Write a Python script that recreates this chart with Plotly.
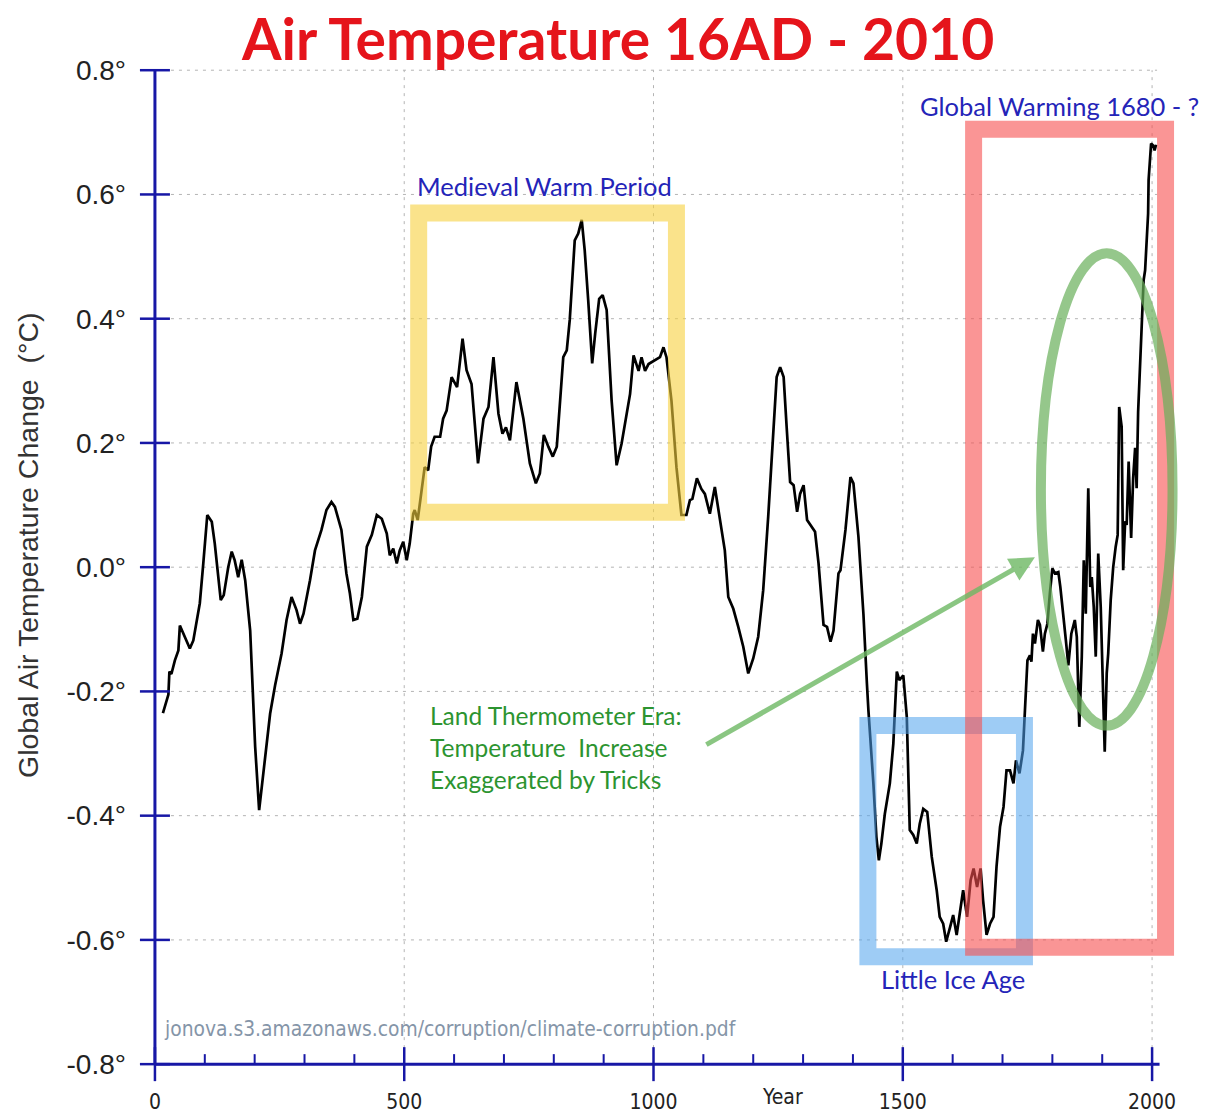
import plotly.graph_objects as go

# ---------------- data ----------------
years = [16, 22, 27, 29, 33, 40, 47, 50, 60, 70, 77, 90, 97, 105, 114, 120, 132, 138, 147, 154,
         160, 167, 174, 181, 191, 201, 209, 217, 231, 241, 247, 254, 264, 274, 284, 291, 298, 311,
         321, 328, 334, 344, 354, 361, 374, 384, 391, 398, 406, 415, 425, 435, 445, 455, 465, 471,
         478, 485, 491, 498, 505, 511, 518, 521, 527, 541, 548, 554, 561, 572, 578, 585, 595, 606,
         617, 625, 635, 648, 659, 669, 679, 689, 697, 704, 712, 725, 739, 752, 764, 772, 780, 789,
         798, 806, 819, 826, 832, 842, 849, 856, 862, 869, 877, 883, 891, 898, 906, 916, 926, 936,
         953, 960, 970, 976, 983, 990, 1003, 1013, 1020, 1026, 1036, 1046, 1056, 1066, 1073, 1078,
         1087, 1096, 1103, 1113, 1123, 1133, 1143, 1150, 1160, 1170, 1180, 1190, 1200, 1210, 1220,
         1230, 1240, 1247, 1254, 1261, 1267, 1274, 1281, 1288, 1294, 1301, 1308, 1318, 1324, 1331,
         1341, 1348, 1355, 1361, 1371, 1375, 1385, 1395, 1401, 1411, 1421, 1428, 1431, 1441, 1447,
         1452, 1457, 1464, 1474, 1481, 1488, 1493, 1501, 1508, 1514, 1521, 1528, 1534, 1541, 1549,
         1558, 1568, 1574, 1581, 1587, 1595, 1601, 1608, 1615, 1621, 1629, 1636, 1642, 1649, 1656,
         1661, 1668, 1675, 1682, 1688, 1695, 1702, 1708, 1715, 1722, 1727, 1734, 1741, 1745, 1750,
         1755, 1758, 1761, 1765, 1768, 1771, 1775, 1778, 1781, 1785, 1790, 1795, 1800, 1805, 1812,
         1816, 1822, 1827, 1832, 1838, 1845, 1849, 1854, 1859, 1863, 1867, 1872, 1876, 1879, 1883,
         1887, 1892, 1897, 1902, 1905, 1909, 1912, 1917, 1922, 1927, 1931, 1934, 1939, 1942, 1946,
         1949, 1953, 1958, 1962, 1966, 1969, 1972, 1976, 1979, 1983, 1986, 1990, 1992, 1993, 1996,
         1998, 2002, 2005, 2008]
temps = [-0.235, -0.22, -0.205, -0.168, -0.172, -0.150, -0.134, -0.094, -0.112, -0.131, -0.118,
         -0.058, 0.006, 0.084, 0.073, 0.038, -0.053, -0.045, 0.000, 0.025, 0.011, -0.016, 0.012,
         -0.021, -0.102, -0.289, -0.391, -0.332, -0.236, -0.190, -0.166, -0.139, -0.085, -0.048,
         -0.069, -0.091, -0.075, -0.021, 0.027, 0.044, 0.060, 0.092, 0.105, 0.097, 0.060, -0.010,
         -0.042, -0.085, -0.083, -0.048, 0.033, 0.052, 0.084, 0.078, 0.054, 0.019, 0.030, 0.006,
         0.027, 0.041, 0.011, 0.038, 0.086, 0.092, 0.076, 0.161, 0.156, 0.194, 0.210, 0.210, 0.239,
         0.252, 0.306, 0.290, 0.368, 0.317, 0.295, 0.167, 0.239, 0.258, 0.338, 0.247, 0.215, 0.225,
         0.204, 0.298, 0.239, 0.167, 0.135, 0.151, 0.213, 0.194, 0.178, 0.194, 0.338, 0.349, 0.398,
         0.526, 0.537, 0.559, 0.510, 0.430, 0.328, 0.376, 0.432, 0.438, 0.414, 0.268, 0.164, 0.199,
         0.279, 0.341, 0.316, 0.338, 0.316, 0.327, 0.333, 0.338, 0.354, 0.338, 0.268, 0.161, 0.084,
         0.084, 0.108, 0.110, 0.143, 0.126, 0.118, 0.086, 0.129, 0.081, 0.027, -0.048, -0.067,
         -0.096, -0.128, -0.171, -0.147, -0.112, -0.037, 0.081, 0.215, 0.306, 0.322, 0.306, 0.226,
         0.137, 0.132, 0.089, 0.118, 0.132, 0.076, 0.065, 0.057, 0.006, -0.093, -0.096, -0.120,
         -0.102, -0.010, -0.005, 0.060, 0.145, 0.135, 0.049, -0.075, -0.187, -0.230, -0.348, -0.434,
         -0.472, -0.445, -0.397, -0.348, -0.284, -0.168, -0.182, -0.174, -0.241, -0.423, -0.431,
         -0.445, -0.413, -0.389, -0.394, -0.466, -0.520, -0.563, -0.574, -0.603, -0.579, -0.560,
         -0.592, -0.552, -0.520, -0.563, -0.504, -0.485, -0.515, -0.485, -0.536, -0.592, -0.574,
         -0.563, -0.482, -0.418, -0.386, -0.327, -0.327, -0.348, -0.311, -0.332, -0.295, -0.230,
         -0.150, -0.142, -0.152, -0.107, -0.123, -0.104, -0.085, -0.093, -0.115, -0.136, -0.107,
         -0.091, -0.042, -0.002, -0.010, -0.008, -0.032, -0.075, -0.117, -0.158, -0.107, -0.085,
         -0.112, -0.257, -0.144, 0.011, -0.075, 0.127, -0.032, -0.016, -0.064, -0.144, 0.022,
         -0.064, -0.187, -0.297, -0.171, -0.139, -0.053, 0.000, 0.033, 0.052, 0.258, 0.226, -0.005,
         0.074, 0.068, 0.170, 0.047, 0.143, 0.192, 0.127, 0.250, 0.333, 0.397, 0.462, 0.478, 0.532,
         0.569, 0.623, 0.655, 0.682, 0.679, 0.671, 0.680]

y_ticks = [0.8, 0.6, 0.4, 0.2, 0.0, -0.2, -0.4, -0.6, -0.8]
y_tick_labels = ["0.8°", "0.6°", "0.4°", "0.2°", "0.0°", "-0.2°", "-0.4°", "-0.6°", "-0.8°"]
x_ticks = [0, 500, 1000, 1500, 2000]
x_tick_labels = ["0", "500", "1000", "1500", "2000"]
x_minor = [100, 200, 300, 400, 600, 700, 800, 900, 1100, 1200, 1300, 1400,
           1600, 1700, 1800, 1900]

# boxes: (x0, x1, y0, y1)
medieval_box = (529, 1046, 0.0885, 0.570)
ice_age_box = (1430, 1744, -0.627, -0.255)
warming_box = (1642, 2027, -0.612, 0.705)
ellipse_box = (1777, 2041, -0.255, 0.5054)

AXIS_BLUE = "#1717a6"
GRID = "#b4b4b4"
NARROW = "DejaVu Sans Condensed, Liberation Sans Narrow, Arial Narrow, sans-serif"
LABEL_BLUE = "#2424b8"

fig = go.Figure()
fig.add_trace(go.Scatter(x=years, y=temps, mode="lines",
                         line=dict(color="black", width=2.7), hoverinfo="skip",
                         showlegend=False))

shapes = []
# grid
for yv in y_ticks:
    if yv == -0.8:
        continue
    shapes.append(dict(type="line", xref="x", yref="y", x0=0, x1=2010, y0=yv, y1=yv,
                       line=dict(color=GRID, width=1, dash="3px,5px"), layer="below"))
for xv in x_ticks[1:]:
    shapes.append(dict(type="line", xref="x", yref="y", x0=xv, x1=xv, y0=-0.8, y1=0.8,
                       line=dict(color=GRID, width=1, dash="3px,5px"), layer="below"))

# annotation boxes
def rect(b, color, op, w):
    return dict(type="rect", xref="x", yref="y", x0=b[0], x1=b[1], y0=b[2], y1=b[3],
                line=dict(color=color, width=w), fillcolor="rgba(0,0,0,0)",
                opacity=op, layer="above")

shapes.append(rect(medieval_box, "rgb(247,210,63)", 0.6, 17))
shapes.append(rect(ice_age_box, "rgb(80,163,238)", 0.55, 17))
shapes.append(rect(warming_box, "rgb(247,80,80)", 0.6, 17))
shapes.append(dict(type="circle", xref="x", yref="y", x0=ellipse_box[0], x1=ellipse_box[1],
                   y0=ellipse_box[2], y1=ellipse_box[3],
                   line=dict(color="rgb(105,176,91)", width=10), opacity=0.7,
                   fillcolor="rgba(0,0,0,0)", layer="above"))

# axes
shapes.append(dict(type="line", xref="x", yref="y", x0=0, x1=2015, y0=-0.8, y1=-0.8,
                   line=dict(color=AXIS_BLUE, width=3), layer="above"))
shapes.append(dict(type="line", xref="x", yref="y", x0=0, x1=0, y0=-0.8, y1=0.8,
                   line=dict(color=AXIS_BLUE, width=3), layer="above"))
for yv in y_ticks:
    shapes.append(dict(type="line", xref="x", yref="y", xsizemode="pixel", xanchor=0,
                       x0=-15, x1=15, y0=yv, y1=yv,
                       line=dict(color=AXIS_BLUE, width=2.5), layer="above"))
for xv in x_ticks:
    shapes.append(dict(type="line", xref="x", yref="y", ysizemode="pixel", yanchor=-0.8,
                       x0=xv, x1=xv, y0=-17, y1=17,
                       line=dict(color=AXIS_BLUE, width=2.5), layer="above"))
for xv in x_minor:
    shapes.append(dict(type="line", xref="x", yref="y", ysizemode="pixel", yanchor=-0.8,
                       x0=xv, x1=xv, y0=0, y1=10,
                       line=dict(color=AXIS_BLUE, width=2), layer="above"))

annotations = [
    dict(x=0.4613, y=1.0255, xref="paper", yref="paper",
         text="<b>Air Temperature 16AD - 2010</b>",
         showarrow=False, font=dict(family="Lato", size=57, color="#e5141b"),
         xanchor="center", yanchor="middle"),
    dict(x=782, y=0.613, xref="x", yref="y", text="Medieval Warm Period", showarrow=False,
         font=dict(family="Lato", size=25.5, color=LABEL_BLUE), xanchor="center",
         yanchor="middle"),
    dict(x=1815, y=0.742, xref="x", yref="y", text="Global Warming 1680 - ?", showarrow=False,
         font=dict(family="Lato", size=25.5, color=LABEL_BLUE), xanchor="center",
         yanchor="middle"),
    dict(x=1600, y=-0.6625, xref="x", yref="y", text="Little Ice Age", showarrow=False,
         font=dict(family="Lato", size=25.5, color=LABEL_BLUE), xanchor="center",
         yanchor="middle"),
    dict(x=548, y=-0.291, xref="x", yref="y",
         text="Land Thermometer Era:<br>Temperature  Increase<br>Exaggerated by Tricks",
         showarrow=False, align="left", xanchor="left", yanchor="middle",
         font=dict(family="Lato", size=24.5, color="#2c9430")),
    dict(x=14, y=-0.7433, xref="x", yref="y",
         text="jonova.s3.amazonaws.com/corruption/climate-corruption.pdf", showarrow=False,
         xanchor="left", yanchor="middle",
         font=dict(family=NARROW, size=20.8, color="#8595a8")),
    dict(x=-0.1022, y=0.5307, xref="paper", yref="paper",
         text="Global Air Temperature Change  (°C)",
         showarrow=False, textangle=-90, xanchor="center", yanchor="middle",
         font=dict(family="Liberation Sans", size=28.5, color="#333333")),
    dict(x=0.6189, y=-0.0078, xref="paper", yref="paper", text="Year", showarrow=False,
         xanchor="center", yanchor="middle",
         font=dict(family=NARROW, size=21, color="#222222")),
    # arrow
    dict(x=1765, y=0.016, xref="x", yref="y", ax=1103, ay=-0.287, axref="x", ayref="y",
         text="", showarrow=True, arrowhead=2, arrowsize=1, arrowwidth=5,
         arrowcolor="rgba(110,185,100,0.8)", standoff=0, startstandoff=0),
]

fig.update_layout(
    width=1212, height=1115,
    margin=dict(l=127, r=38, t=56, b=34, autoexpand=False),
    paper_bgcolor="white", plot_bgcolor="white",
    showlegend=False,
    shapes=shapes,
    annotations=annotations,
    xaxis=dict(range=[-40, 2060], showgrid=False, zeroline=False, showline=False,
               automargin=False,
               tickvals=x_ticks, ticktext=x_tick_labels, ticks="",
               tickfont=dict(family=NARROW, size=21, color="#222222"),
               ticklabelstandoff=-2),
    yaxis=dict(range=[-0.84, 0.81], showgrid=False, zeroline=False, showline=False,
               automargin=False,
               tickvals=y_ticks, ticktext=y_tick_labels, ticks="",
               tickfont=dict(family="Liberation Sans", size=28, color="#222222"),
               ticklabelstandoff=8),
)

fig.write_html("out.html")
